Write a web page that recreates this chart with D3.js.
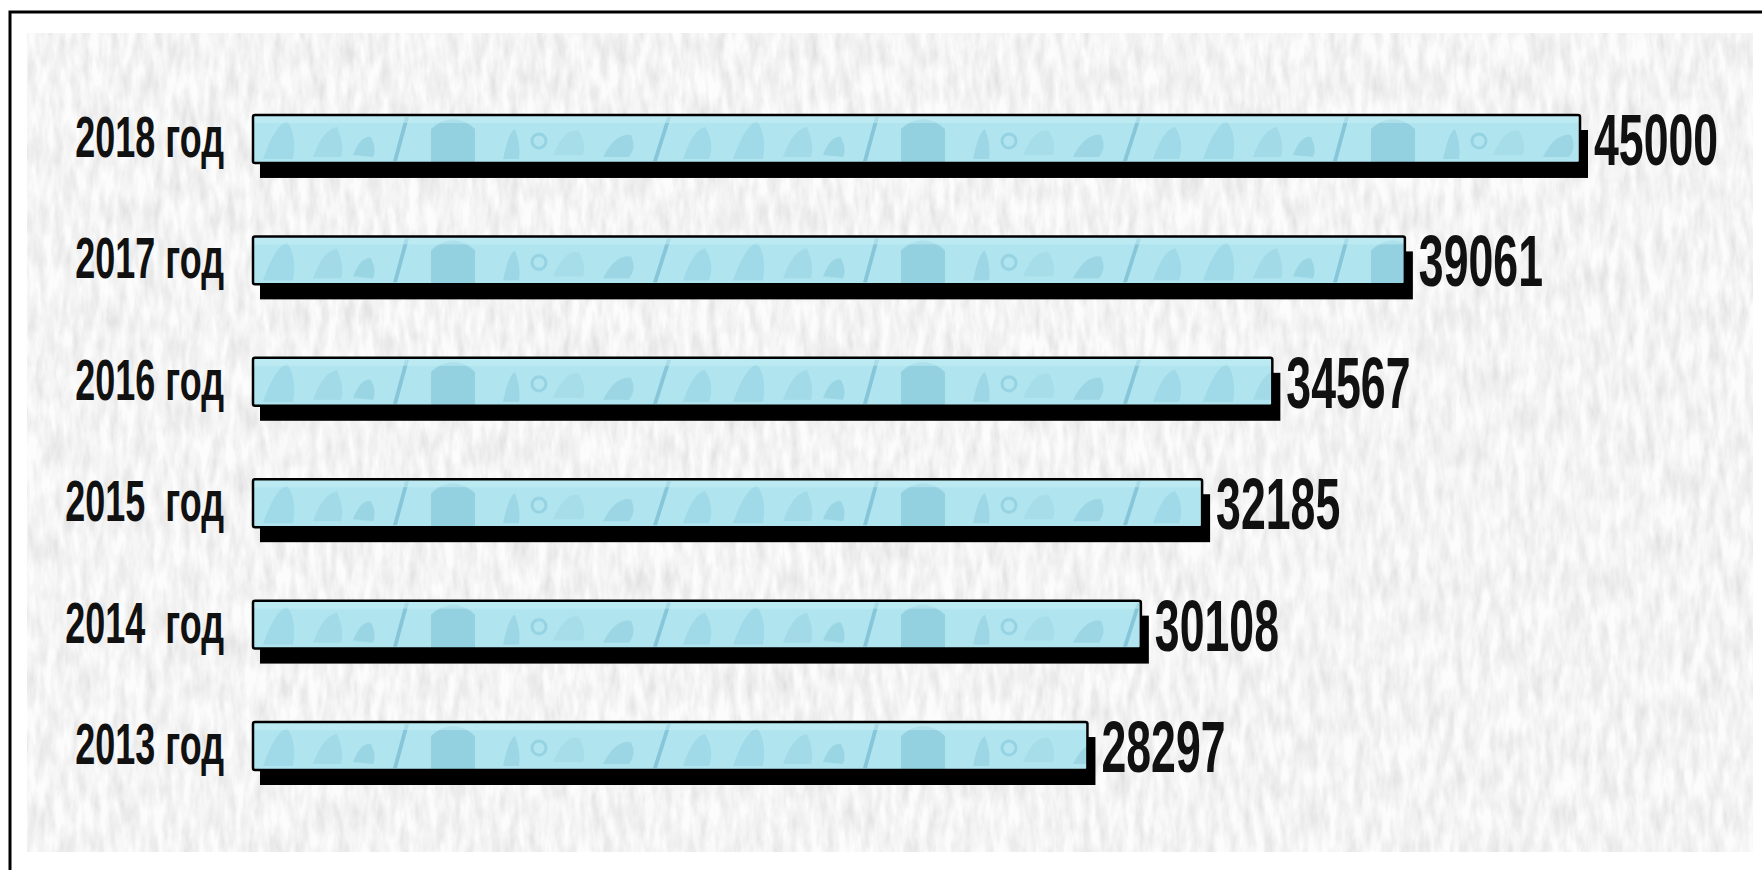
<!DOCTYPE html>
<html>
<head>
<meta charset="utf-8">
<script src="https://cdn.jsdelivr.net/npm/d3@7"></script>
<style>
  html, body { margin: 0; padding: 0; background: #ffffff; }
  svg { display: block; }
</style>
</head>
<body>
<svg id="chart" width="1762" height="870"></svg>
<script>
// ---- data ----
const categories = ["2018 год", "2017 год", "2016 год", "2015  год", "2014  год", "2013 год"];
const values = [45000, 39061, 34567, 32185, 30108, 28297];

const data = categories.map((c, i) => ({ cat: c, val: values[i] }));

const W = 1762, H = 870;
const svg = d3.select("#chart");
const defs = svg.append("defs");

// paper texture
const paper = defs.append("filter").attr("id", "paper")
  .attr("x", 0).attr("y", 0).attr("width", "100%").attr("height", "100%");
paper.append("feTurbulence").attr("type", "fractalNoise")
  .attr("baseFrequency", "0.11 0.03").attr("numOctaves", 3).attr("seed", 7).attr("result", "n");
paper.append("feColorMatrix").attr("in", "n").attr("type", "matrix")
  .attr("values", "0.42 0 0 0 0.71  0.42 0 0 0 0.71  0.42 0 0 0 0.71  0 0 0 0 1");

// bar texture pattern
const pat = defs.append("pattern").attr("id", "barPat")
  .attr("patternUnits", "userSpaceOnUse")
  .attr("x", 253).attr("y", 0).attr("width", 470).attr("height", 48);
pat.append("rect").attr("width", 470).attr("height", 48).attr("fill", "#b0e5f0");
pat.append("path").attr("d", "M178,48 L178,14 Q200,-6 222,14 L222,48 Z").attr("fill", "#93d1e1");
pat.append("path").attr("d", "M140,46 L152,2 L156,2 L144,46 Z").attr("fill", "#86c6d8");
pat.append("path").attr("d", "M400,46 L414,2 L418,2 L404,46 Z").attr("fill", "#86c6d8");
pat.append("path").attr("d", "M10,44 Q22,10 34,6 Q44,20 40,44 Z").attr("fill", "#a0d9e7");
pat.append("path").attr("d", "M60,42 Q70,14 84,12 Q92,30 88,42 Z").attr("fill", "#a2dae8");
pat.append("path").attr("d", "M100,40 Q108,20 118,22 Q124,34 120,42 Z").attr("fill", "#9ad5e4");
pat.append("path").attr("d", "M250,44 Q256,16 262,14 Q268,30 266,44 Z").attr("fill", "#9dd6e5");
pat.append("path").attr("d", "M300,40 Q312,12 326,16 Q334,30 330,40 Z").attr("fill", "#a6dde9");
pat.append("path").attr("d", "M350,42 Q362,18 378,20 Q384,32 376,42 Z").attr("fill", "#9cd6e4");
pat.append("path").attr("d", "M430,44 Q440,14 452,12 Q462,28 456,44 Z").attr("fill", "#a0d9e7");
pat.append("circle").attr("cx", 286).attr("cy", 26).attr("r", 7).attr("fill", "none")
  .attr("stroke", "#95d2e2").attr("stroke-width", 3);
pat.append("rect").attr("x", 0).attr("y", 0).attr("width", 470).attr("height", 8)
  .attr("fill", "#c8f0f6").attr("opacity", 0.5);

// outer frame
svg.append("rect").attr("x", 10).attr("y", 12).attr("width", W + 40).attr("height", H + 40)
  .attr("fill", "#ffffff").attr("stroke", "#000").attr("stroke-width", 3);

// textured panel
svg.append("rect").attr("x", 27).attr("y", 33).attr("width", 1726).attr("height", 819)
  .attr("fill", "#ebebeb");
svg.append("rect").attr("x", 27).attr("y", 33).attr("width", 1726).attr("height", 819)
  .attr("filter", "url(#paper)").attr("opacity", 0.85);

// scales
const x = d3.scaleLinear().domain([0, 45000]).range([253, 1580]);
const y = d3.scaleBand().domain(categories).range([115, 770]).paddingInner(0.605).paddingOuter(0);
const bh = y.bandwidth();

const g = svg.append("g");
const rows = g.selectAll("g.row").data(data).enter().append("g")
  .attr("class", "row")
  .attr("transform", d => `translate(0,${y(d.cat)})`);

// shadow
rows.append("rect")
  .attr("x", x(0) + 7).attr("y", 15)
  .attr("width", d => x(d.val) - x(0) + 1).attr("height", bh)
  .attr("fill", "#000");

// bar
rows.append("rect")
  .attr("x", x(0)).attr("y", 0)
  .attr("width", d => x(d.val) - x(0)).attr("height", bh)
  .attr("rx", 2)
  .attr("fill", "url(#barPat)")
  .attr("stroke", "#000").attr("stroke-width", 2.5);

const sx = 0.62;

// category labels
rows.append("g")
  .attr("transform", `translate(224,${bh / 2 + 18}) scale(${sx},1)`)
  .append("text")
  .attr("text-anchor", "end")
  .attr("font-family", "'Liberation Sans', Arial, sans-serif")
  .attr("font-weight", "bold")
  .attr("font-size", 58)
  .attr("fill", "#111")
  .style("white-space", "pre")
  .text(d => d.cat);

// value labels
rows.append("g")
  .attr("transform", d => `translate(${x(d.val) + 14},${bh / 2 + 26}) scale(${sx},1)`)
  .append("text")
  .attr("font-family", "'Liberation Sans', Arial, sans-serif")
  .attr("font-weight", "bold")
  .attr("font-size", 72)
  .attr("fill", "#111")
  .text(d => d3.format("d")(d.val));
</script>
</body>
</html>
